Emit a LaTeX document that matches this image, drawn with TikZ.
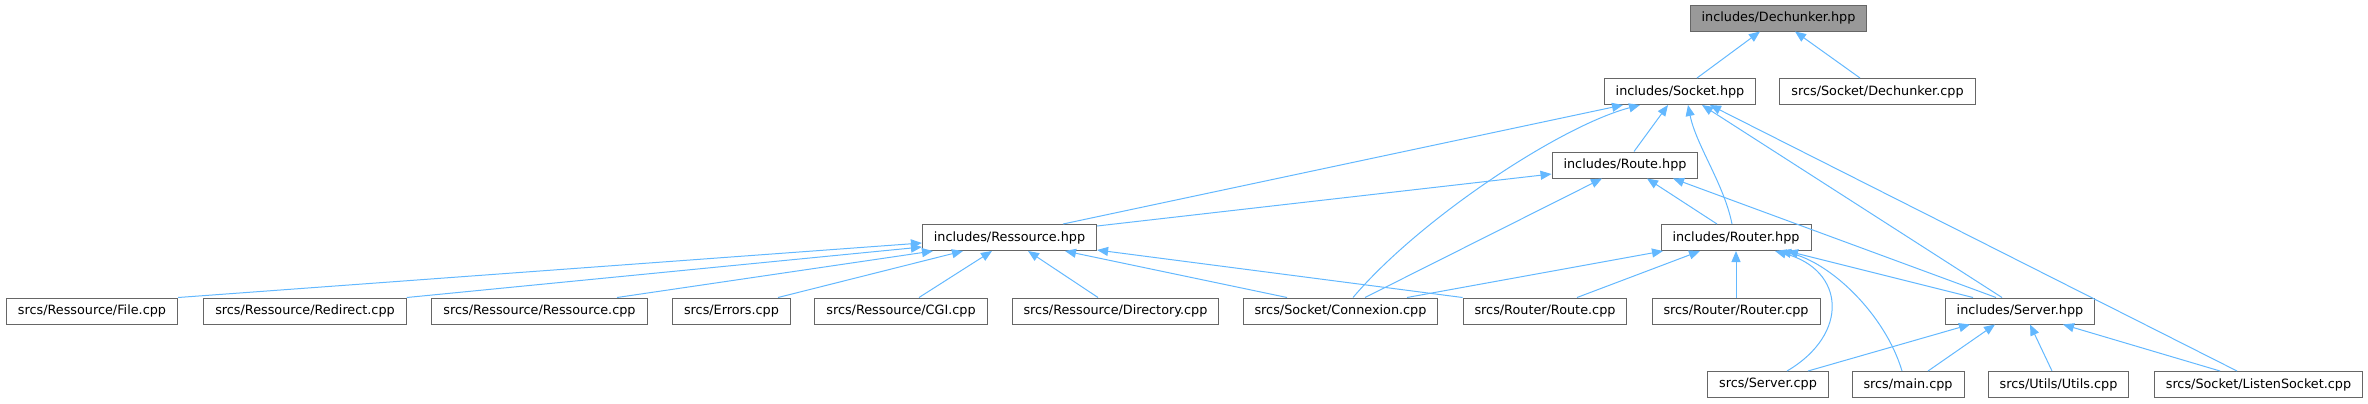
\documentclass[tikz,border=0pt]{standalone}
\usepackage{fontspec}
\setmainfont{DejaVu Sans}
\usepackage{tikz}
\usetikzlibrary{arrows.meta}
\definecolor{edgeblue}{HTML}{63B8FF}
\definecolor{nodegray}{HTML}{666666}
\definecolor{rootgray}{HTML}{999999}

\begin{document}
\begin{tikzpicture}[x=1bp, y=-1bp,
    file/.style={rectangle, draw=nodegray, line width=1bp, fill=white,
                 minimum height=26bp, inner xsep=11.5bp, inner ysep=0pt,
                 font=\fontsize{12.8bp}{15bp}\selectfont},
    root/.style={file, fill=rootgray},
    edge/.style={{Triangle[length=11bp,width=9bp]}-, draw=edgeblue, line width=1bp}]

    \useasboundingbox (0,0) rectangle (2368,403);

    % Header boxes
    \node[root] (dechhpp) at (1778.5,18) {includes/Dechunker.hpp};
    \node[file] (sockhpp) at (1680,91.5) {includes/Socket.hpp};
    \node[file] (dechcpp) at (1877.5,91.5) {srcs/Socket/Dechunker.cpp};
    \node[file] (routehpp) at (1625,165) {includes/Route.hpp};
    \node[file] (resshpp) at (1009.5,237.5) {includes/Ressource.hpp};
    \node[file] (routerhpp) at (1736,237.5) {includes/Router.hpp};
    \node[file] (serverhpp) at (2020,311) {includes/Server.hpp};

    % Source boxes
    \node[file] (filecpp) at (92,311) {srcs/Ressource/File.cpp};
    \node[file] (redircpp) at (305,311) {srcs/Ressource/Redirect.cpp};
    \node[file] (resscpp) at (539.5,311) {srcs/Ressource/Ressource.cpp};
    \node[file] (errcpp) at (731.5,311) {srcs/Errors.cpp};
    \node[file] (cgicpp) at (901,311) {srcs/Ressource/CGI.cpp};
    \node[file] (dircpp) at (1115.5,311) {srcs/Ressource/Directory.cpp};
    \node[file] (conncpp) at (1340.5,311) {srcs/Socket/Connexion.cpp};
    \node[file] (routecpp) at (1545,311) {srcs/Router/Route.cpp};
    \node[file] (routercpp) at (1736,311) {srcs/Router/Router.cpp};
    \node[file] (servercpp) at (1768,384.5) {srcs/Server.cpp};
    \node[file] (maincpp) at (1908,384.5) {srcs/main.cpp};
    \node[file] (utilscpp) at (2058.5,384.5) {srcs/Utils/Utils.cpp};
    \node[file] (listencpp) at (2258.5,384.5) {srcs/Socket/ListenSocket.cpp};

    % Dechunker.hpp
    \draw[edge] ([xshift=-18.5bp]dechhpp.south) -- ([xshift=17bp]sockhpp.north);
    \draw[edge] ([xshift=16.5bp]dechhpp.south) -- ([xshift=-17.5bp]dechcpp.north);

    % Socket.hpp
    \draw[edge] ([xshift=-57bp]sockhpp.south) -- ([xshift=53.5bp]resshpp.north);
    \draw[edge] ([xshift=-40bp]sockhpp.south) .. controls +(-80,21) and +(66,-78) .. ([xshift=12.5bp]conncpp.north);
    \draw[edge] ([xshift=-12bp]sockhpp.south) -- ([xshift=9bp]routehpp.north);
    \draw[edge] ([xshift=8bp]sockhpp.south) .. controls +(8,40) and +(-8,-40) .. ([xshift=-4bp]routerhpp.north);
    \draw[edge] ([xshift=22bp]sockhpp.south) -- ([xshift=-18bp]serverhpp.north);
    \draw[edge] ([xshift=30bp]sockhpp.south) -- ([xshift=-21.5bp]listencpp.north);

    % Route.hpp
    \draw[edge] ([yshift=-9bp]routehpp.west) -- ([yshift=-2bp]resshpp.north east);
    \draw[edge] ([xshift=-23bp]routehpp.south) -- ([xshift=24.5bp]conncpp.north);
    \draw[edge] ([xshift=22bp]routehpp.south) -- ([xshift=-19bp]routerhpp.north);
    \draw[edge] ([xshift=48bp]routehpp.south) -- ([xshift=-24bp]serverhpp.north);

    % Ressource.hpp
    \draw[edge] ([yshift=-5.5bp]resshpp.west) -- (filecpp.north east);
    \draw[edge] ([yshift=-9.5bp]resshpp.west) -- (redircpp.north east);
    \draw[edge] ([xshift=-76.5bp]resshpp.south) -- ([xshift=77.5bp]resscpp.north);
    \draw[edge] ([xshift=-46.5bp]resshpp.south) -- ([xshift=46.5bp]errcpp.north);
    \draw[edge] ([xshift=-17.5bp]resshpp.south) -- ([xshift=18bp]cgicpp.north);
    \draw[edge] ([xshift=18.5bp]resshpp.south) -- ([xshift=-17.5bp]dircpp.north);
    \draw[edge] ([xshift=55.5bp]resshpp.south) -- ([xshift=-53.5bp]conncpp.north);
    \draw[edge] ([yshift=1bp]resshpp.south east) -- (routecpp.north west);

    % Router.hpp
    \draw[edge] ([xshift=-73bp]routerhpp.south) -- ([xshift=66.5bp]conncpp.north);
    \draw[edge] ([xshift=-36bp]routerhpp.south) -- ([xshift=32bp]routecpp.north);
    \draw[edge] (routerhpp.south) -- (routercpp.north);
    \draw[edge] ([xshift=51bp]routerhpp.south) -- ([xshift=-47bp]serverhpp.north);
    \draw[edge] ([xshift=39bp]routerhpp.south) .. controls +(70,19) and +(63,-37) .. ([xshift=19bp]servercpp.north);
    \draw[edge] ([xshift=44bp]routerhpp.south) .. controls +(50,11) and +(-17,-57) .. ([xshift=-6bp]maincpp.north);

    % Server.hpp
    \draw[edge] ([xshift=-50bp]serverhpp.south) -- ([xshift=40bp]servercpp.north);
    \draw[edge] ([xshift=-25bp]serverhpp.south) -- ([xshift=20bp]maincpp.north);
    \draw[edge] ([xshift=10bp]serverhpp.south) -- ([xshift=-6.5bp]utilscpp.north);
    \draw[edge] ([xshift=43bp]serverhpp.south) -- ([xshift=-38.5bp]listencpp.north);

\end{tikzpicture}
\end{document}
